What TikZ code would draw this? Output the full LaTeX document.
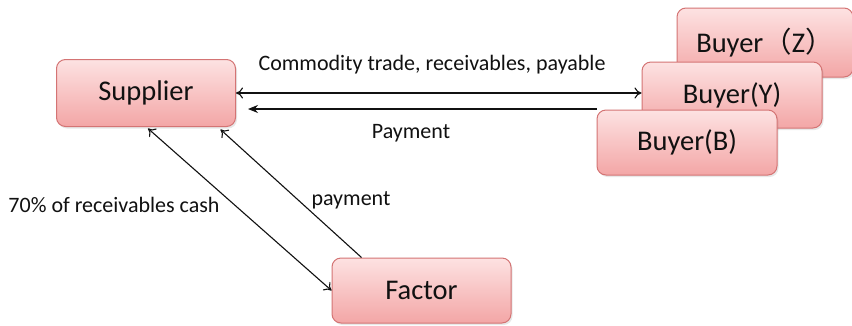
\documentclass[tikz,border=0pt]{standalone}
\usepackage{fontspec}
\setmainfont{Carlito}
\newfontfamily\cjk{Noto Sans CJK SC}
\usetikzlibrary{shadows,arrows.meta}
\definecolor{boxtop}{HTML}{FDE2E2}
\definecolor{boxbot}{HTML}{F3A6A6}
\definecolor{boxline}{HTML}{D47474}
\definecolor{ink}{HTML}{111111}
\tikzset{
  party/.style={draw=boxline, line width=1pt, rounded corners=9pt,
    top color=boxtop, bottom color=boxbot,
    drop shadow={opacity=0.18, shadow xshift=1.5pt, shadow yshift=-2pt},
    font=\fontsize{28.5}{32}\selectfont, text=ink, inner sep=0pt},
  flow/.style={draw=ink, line width=1.1pt},
  lbl/.style={font=\fontsize{22}{26}\selectfont, text=ink, inner sep=0pt},
}
\begin{document}
\begin{tikzpicture}[x=1pt,y=-1pt]
\useasboundingbox[fill=white] (0,0) rectangle (852,325);
% trading partners
\node[party, minimum width=176pt, minimum height=69pt] (buyZ) at (765,42.5) {Buyer{\cjk（}Z{\cjk）}};
\node[party, minimum width=180pt, minimum height=66pt] (buyY) at (732,95) {Buyer(Y)};
\node[party, minimum width=180pt, minimum height=65pt] (buyB) at (687,142.5) {Buyer(B)};
\node[party, minimum width=179pt, minimum height=67pt] (sup) at (146,93) {Supplier};
\node[party, minimum width=179pt, minimum height=65pt] (fac) at (421.5,290.5) {Factor};
% trade flows between supplier and buyers
\draw[flow, {To[length=7pt,width=11pt]}-{To[length=7pt,width=11pt]}] (sup.east) -- (sup.east -| buyY.west);
\draw[flow, -{Stealth[length=10pt,width=8pt]}] ([yshift=-16pt]sup.east -| buyB.west) -- ([xshift=12pt,yshift=-16pt]sup.east);
% factoring flows
\draw[flow, {To[length=7pt,width=11pt]}-{To[length=7pt,width=11pt]}] ([xshift=2pt,yshift=-1.5pt]sup.south) -- (fac.west);
\draw[flow, -{To[length=7pt,width=11pt]}] ([xshift=30pt]fac.north west) -- ([xshift=-15.5pt,yshift=-2.5pt]sup.south east);
% labels
\node[lbl] (ltrade) at (432,65) {Commodity trade, receivables, payable};
\node[lbl] (lpay) at (411,133) {Payment};
\node[lbl] (lcash) at (114,205) {70\% of receivables cash};
\node[lbl] (lfpay) at (351,200) {payment};
\end{tikzpicture}
\end{document}
